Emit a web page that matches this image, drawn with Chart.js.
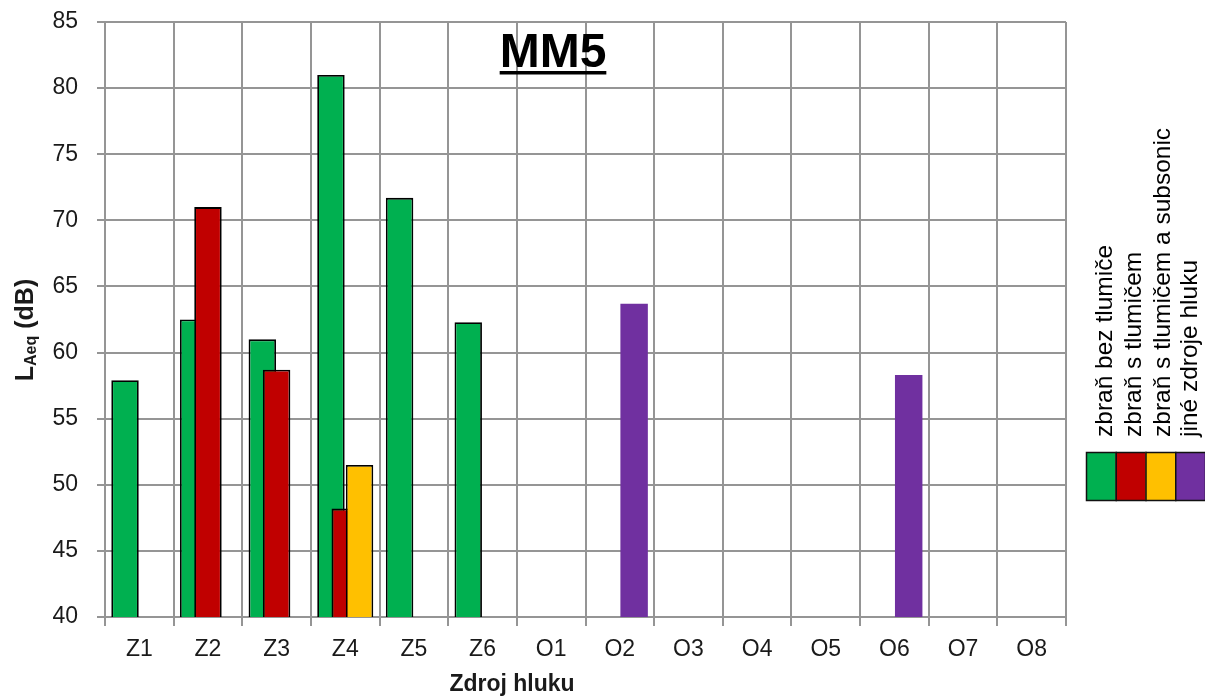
<!DOCTYPE html>
<html>
<head>
<meta charset="utf-8">
<title>MM5</title>
<script src="https://cdn.jsdelivr.net/npm/chart.js@4/dist/chart.umd.min.js"></script>
<style>
  html, body { margin: 0; padding: 0; background: #fff; }
  #wrap { position: relative; width: 1205px; height: 700px; }
</style>
</head>
<body>
<div id="wrap"><canvas id="mm5Chart"></canvas></div>
<script>
// Categories (noise sources) and measured LAeq values in dB
const categories = ['Z1', 'Z2', 'Z3', 'Z4', 'Z5', 'Z6', 'O1', 'O2', 'O3', 'O4', 'O5', 'O6', 'O7', 'O8'];
const bezTlumice = [57.9, 62.5, 61.0, 81.0, 71.7, 62.3, null, null, null, null, null, null, null, null];
const sTlumicem = [null, 71.0, 58.7, 48.2, null, null, null, null, null, null, null, null, null, null];
const sTlumicemSubsonic = [null, null, null, 51.5, null, null, null, null, null, null, null, null, null, null];
const jineZdroje = [null, null, null, null, null, null, null, 63.7, null, null, null, 58.3, null, null];
const yTicks = [40, 45, 50, 55, 60, 65, 70, 75, 80, 85];

const seriesLabels = ['zbraň bez tlumiče', 'zbraň s tlumičem', 'zbraň s tlumičem a subsonic', 'jiné zdroje hluku'];
const seriesColors = ['#00B050', '#C00000', '#FFC000', '#7030A0'];

const FONT = "'Liberation Sans', Arial, sans-serif";
const TEXT = '#1a1a1a';
const GRID = '#959595';

// Chart.js paints the first dataset last; paint them in list order instead,
// so later series overlap the earlier ones like in the original
const drawInListOrder = {
    id: 'drawInListOrder',
    beforeDatasetsDraw(chart) {
        const ctx = chart.ctx;
        const area = chart.chartArea;
        ctx.save();
        ctx.beginPath();
        ctx.rect(area.left, area.top, area.right - area.left, area.bottom - area.top);
        ctx.clip();
        chart.data.datasets.forEach((ds, i) => {
            const meta = chart.getDatasetMeta(i);
            if (meta.visible !== false) meta.controller.draw();
        });
        ctx.restore();
        return false;
    }
};

// Title, axis titles and the rotated legend on the right
const decorations = {
    id: 'decorations',
    afterDraw(chart) {
        const ctx = chart.ctx;
        ctx.save();
        ctx.fillStyle = '#000';

        // chart title, underlined
        ctx.font = 'bold 48px ' + FONT;
        ctx.textAlign = 'center';
        ctx.textBaseline = 'alphabetic';
        ctx.fillText('MM5', 553, 67);
        const tw = ctx.measureText('MM5').width;
        ctx.fillRect(553 - tw / 2, 71, tw, 3.5);

        // x axis title
        ctx.fillStyle = TEXT;
        ctx.font = 'bold 23px ' + FONT;
        ctx.textBaseline = 'middle';
        ctx.fillText('Zdroj hluku', 512, 685);

        // y axis title: L with subscript Aeq
        ctx.save();
        ctx.translate(33, 330);
        ctx.rotate(-Math.PI / 2);
        const big = 'bold 25px ' + FONT, small = 'bold 16px ' + FONT;
        ctx.font = big;
        const wL = ctx.measureText('L').width;
        const wRest = ctx.measureText(' (dB)').width;
        ctx.font = small;
        const wSub = ctx.measureText('Aeq').width;
        let x = -(wL + wSub + wRest) / 2;
        ctx.textAlign = 'left';
        ctx.textBaseline = 'alphabetic';
        ctx.font = big;
        ctx.fillText('L', x, 0);
        x += wL;
        ctx.font = small;
        ctx.fillText('Aeq', x, 3);
        x += wSub;
        ctx.font = big;
        ctx.fillText(' (dB)', x, 0);
        ctx.restore();

        // legend: rotated labels above a row of colour swatches
        const colX = [1105, 1134, 1163, 1190];
        ctx.font = '24.5px ' + FONT;
        chart.data.datasets.forEach((ds, i) => {
            ctx.save();
            ctx.translate(colX[i], 437);
            ctx.rotate(-Math.PI / 2);
            ctx.textAlign = 'left';
            ctx.textBaseline = 'middle';
            ctx.fillStyle = '#000';
            ctx.fillText(ds.label, 0, 0);
            ctx.restore();

            ctx.fillStyle = ds.backgroundColor;
            ctx.fillRect(1086 + i * 29.75, 452, 29.75, 48);
            ctx.strokeStyle = '#111';
            ctx.lineWidth = 1.5;
            ctx.strokeRect(1086.5 + i * 29.75, 452.5, 29.75, 48);
        });
        ctx.restore();
    }
};

function makeDataset(i, values, stack) {
    return {
        label: seriesLabels[i],
        data: values,
        backgroundColor: seriesColors[i],
        borderColor: i === 3 ? seriesColors[i] : '#000',
        borderWidth: i === 3 ? 0 : 1.8,
        stack: stack,
        categoryPercentage: 0.625,
        barPercentage: 1.92
    };
}

new Chart(document.getElementById('mm5Chart'), {
    type: 'bar',
    data: {
        labels: categories,
        datasets: [
            makeDataset(0, bezTlumice, 'a'),
            makeDataset(1, sTlumicem, 'b'),
            makeDataset(2, sTlumicemSubsonic, 'c'),
            makeDataset(3, jineZdroje, 'c')
        ]
    },
    options: {
        responsive: true,
        maintainAspectRatio: false,
        animation: false,
        devicePixelRatio: 1,
        layout: { padding: { top: 22, right: 139, bottom: 0, left: 0 } },
        plugins: {
            legend: { display: false },
            title: { display: false },
            tooltip: { enabled: false }
        },
        scales: {
            x: {
                grid: { color: GRID, lineWidth: 2, tickLength: 9, offset: true },
                border: { color: GRID, width: 2 },
                ticks: {
                    color: TEXT,
                    padding: 10,
                    maxRotation: 0,
                    font: { family: FONT, size: 23 }
                },
                afterFit: s => { s.height = 83; }
            },
            y: {
                stacked: false,
                min: 40,
                max: 85,
                afterBuildTicks: s => { s.ticks = yTicks.map(v => ({ value: v })); },
                grid: { color: GRID, lineWidth: 2, tickLength: 8 },
                border: { color: GRID, width: 2 },
                ticks: {
                    color: TEXT,
                    padding: 19,
                    font: { family: FONT, size: 23 }
                },
                afterFit: s => { s.width = 105; s.paddingTop = 0; s.paddingBottom = 0; }
            }
        }
    },
    plugins: [drawInListOrder, decorations]
});
</script>
</body>
</html>
